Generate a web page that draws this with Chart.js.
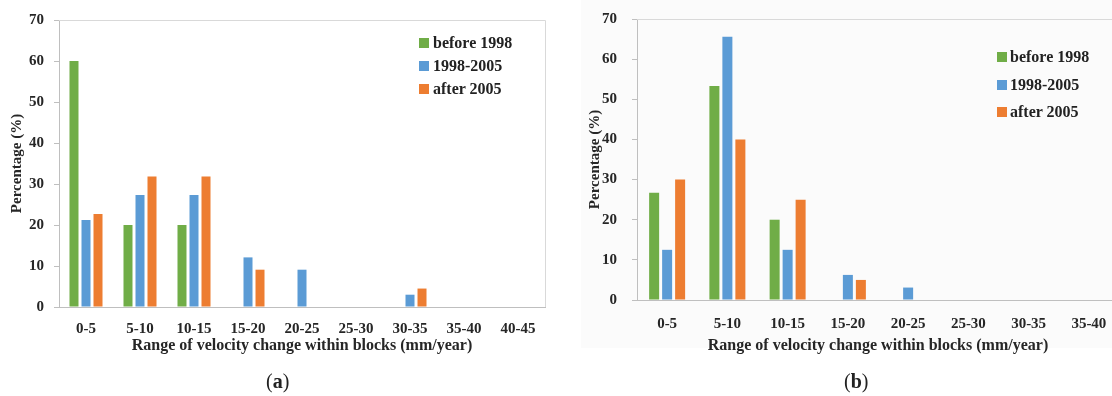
<!DOCTYPE html>
<html>
<head>
<meta charset="utf-8">
<script src="https://cdn.jsdelivr.net/npm/chart.js@4.4.0/dist/chart.umd.min.js"></script>
<style>
  body { margin: 0; width: 1112px; height: 396px; overflow: hidden; background: #fff; position: relative; font-family: "Liberation Serif", serif; }
  .box { position: absolute; top: 0; height: 396px; overflow: hidden; }
  #boxA { left: 0; width: 556px; }
  #boxB { left: 556px; width: 556px; }
  #shadeB { position: absolute; left: 25px; top: 0; width: 531px; height: 348px; background: #fbfbfb; }
  canvas { position: absolute; left: 0; top: 0; }
  .legend { position: absolute; font-weight: bold; font-size: 16px; color: #222; }
  .legend .row { position: absolute; left: 0; white-space: nowrap; height: 20px; line-height: 20px; }
  .legend .sw { position: absolute; left: 0; top: 5px; width: 10px; height: 10px; }
  .legend .tx { position: absolute; top: 0; }
  .cap { position: absolute; top: 370px; font-size: 20px; color: #222; }
</style>
</head>
<body>
<div class="box" id="boxA"><canvas id="chartA" width="556" height="396"></canvas></div>
<div class="box" id="boxB"><div id="shadeB"></div><canvas id="chartB" width="570" height="396"></canvas></div>
<div class="legend" id="legA" style="left:419px;top:33px"></div>
<div class="legend" id="legB" style="left:997px;top:47px"></div>
<div class="cap" style="left:266px">(<b>a</b>)</div>
<div class="cap" style="left:844px">(<b>b</b>)</div>
<script>
const seriesNames = ['before 1998', '1998-2005', 'after 2005'];
const colors = ['#70ad47', '#5b9bd5', '#ed7d31'];

const labelsA = ['0-5', '5-10', '10-15', '15-20', '20-25', '25-30', '30-35', '35-40', '40-45'];
const before1998A = [60, 20, 20, 0, 0, 0, 0, 0, 0];
const mid1998A = [21.2, 27.3, 27.3, 12.1, 9.1, 0, 3.0, 0, 0];
const after2005A = [22.7, 31.8, 31.8, 9.1, 0, 0, 4.5, 0, 0];

const labelsB = ['0-5', '5-10', '10-15', '15-20', '20-25', '25-30', '30-35', '35-40'];
const before1998B = [26.7, 53.3, 20, 0, 0, 0, 0, 0];
const mid1998B = [12.5, 65.6, 12.5, 6.25, 3.1, 0, 0, 0];
const after2005B = [30, 40, 25, 5, 0, 0, 0, 0];

const yTicks = [0, 10, 20, 30, 40, 50, 60, 70];
const xTitle = 'Range of velocity change within blocks (mm/year)';
const yTitle = 'Percentage (%)';

const textColor = '#262626';
const axisColor = '#bfbfbf';
const serif = '"Liberation Serif", serif';

// light frame on top and right of the plot area
const framePlugin = {
  id: 'frame',
  beforeDatasetsDraw(chart) {
    const { ctx, chartArea: a } = chart;
    ctx.save();
    ctx.strokeStyle = '#d9d9d9';
    ctx.lineWidth = 1;
    ctx.beginPath();
    ctx.moveTo(a.left, Math.round(a.top) + 0.5);
    ctx.lineTo(Math.round(a.right) + 0.5, Math.round(a.top) + 0.5);
    ctx.lineTo(Math.round(a.right) + 0.5, a.bottom);
    ctx.stroke();
    ctx.restore();
  }
};

function makeChart(id, labels, values, o) {
  return new Chart(document.getElementById(id), {
    type: 'bar',
    data: {
      labels: labels,
      datasets: values.map((v, i) => ({
        label: seriesNames[i],
        data: v,
        backgroundColor: colors[i],
        categoryPercentage: o.catPct,
        barPercentage: o.barPct
      }))
    },
    options: {
      responsive: false,
      animation: false,
      layout: { padding: { top: o.top, right: o.right, bottom: o.bottom, left: 0 } },
      plugins: { legend: { display: false }, tooltip: { enabled: false } },
      scales: {
        x: {
          grid: { display: false, drawTicks: false },
          border: { display: true, color: axisColor },
          ticks: { color: textColor, padding: o.xPad, maxRotation: 0, autoSkip: false,
                   font: { family: serif, size: 15, weight: 'bold', lineHeight: 1.2 } },
          title: { display: true, text: xTitle, color: textColor, padding: { top: 0, bottom: 0 },
                   font: { family: serif, size: 16, weight: 'bold', lineHeight: 1.2 } },
          afterFit(s) { s.height = o.xH; }
        },
        y: {
          min: 0, max: 70,
          afterBuildTicks(s) { s.ticks = yTicks.map(v => ({ value: v })); },
          grid: { drawOnChartArea: false, drawTicks: true, tickLength: 5, color: axisColor },
          border: { display: true, color: axisColor },
          ticks: { color: textColor, padding: o.yPad,
                   font: { family: serif, size: 15, weight: 'bold', lineHeight: 1.2 } },
          title: { display: true, text: yTitle, color: textColor, padding: { top: o.yTitlePad, bottom: 0 },
                   font: { family: serif, size: 15, weight: 'bold', lineHeight: 1.2 } },
          // fixed width; let layout padding alone decide the top of the plot
          afterFit(s) { s.width = o.yW; s.paddingTop = 0; s.paddingBottom = 0; }
        }
      }
    },
    plugins: [framePlugin]
  });
}

makeChart('chartA', labelsA, [before1998A, mid1998A, after2005A], {
  top: 20, right: 11, bottom: 41, xH: 48, xPad: 13, yW: 59, yPad: 10, yTitlePad: 8,
  catPct: 0.667, barPct: 0.75
});
makeChart('chartB', labelsB, [before1998B, mid1998B, after2005B], {
  top: 19, right: 7, bottom: 41, xH: 55, xPad: 15, yW: 81, yPad: 15, yTitlePad: 30,
  catPct: 0.647, barPct: 0.77
});

function makeLegend(id, gap, textLeft) {
  const el = document.getElementById(id);
  seriesNames.forEach((name, i) => {
    const row = document.createElement('div');
    row.className = 'row';
    row.style.top = (i * gap) + 'px';
    row.innerHTML = '<span class="sw" style="background:' + colors[i] + '"></span>' +
                    '<span class="tx" style="left:' + textLeft + 'px">' + name + '</span>';
    el.appendChild(row);
  });
}
makeLegend('legA', 23, 14);
makeLegend('legB', 27.5, 13);
</script>
</body>
</html>
